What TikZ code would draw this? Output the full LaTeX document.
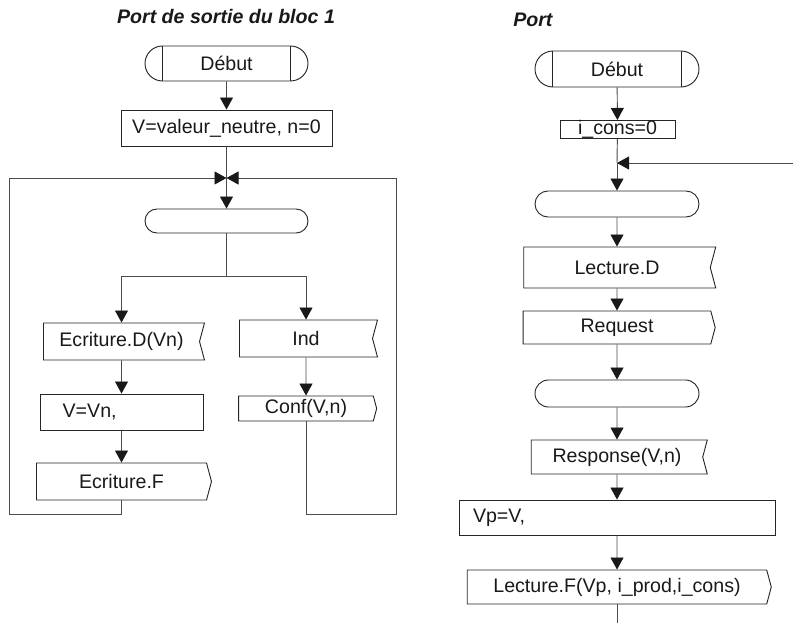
\documentclass[tikz,border=0pt]{standalone}
\usepackage{fontspec}
\setmainfont{Liberation Sans}
\usetikzlibrary{arrows.meta,shapes.misc,shapes.symbols}

\tikzset{
  flow/.style={draw=black!70, line width=0.7pt, -{Triangle[width=9.75pt,length=9pt,color=black!90]}},
  link/.style={draw=black!70, line width=0.7pt},
  actbox/.style={draw=black!85, line width=0.7pt, rectangle, inner sep=2pt, text=black!90},
  termbox/.style={draw=black!85, line width=0.7pt, rounded rectangle, minimum width=123pt, inner sep=0pt},
  startbox/.style={termbox, text=black!90,
    path picture={
      \draw[black!85, line width=0.7pt] ([xshift=13pt]path picture bounding box.north west) -- ([xshift=13pt]path picture bounding box.south west);
      \draw[black!85, line width=0.7pt] ([xshift=-13pt]path picture bounding box.north east) -- ([xshift=-13pt]path picture bounding box.south east);}},
  sendbox/.style={actbox, signal, signal to=east, signal from=nowhere, signal pointer angle=150},
  recvbox/.style={actbox, signal, signal to=nowhere, signal from=east, signal pointer angle=150},
  titre/.style={font=\fontsize{14.7}{17}\selectfont\bfseries\itshape, text=black!90, inner sep=0pt}
}

\begin{document}
\begin{tikzpicture}[x=0.75pt,y=0.75pt,yscale=-1,xscale=1, font=\fontsize{14.7}{17}\selectfont]
\useasboundingbox (0,0) rectangle (794,623);

% Text Node
\node (titre1) at (226,17) [titre] {Port de sortie du bloc 1};
% Text Node
\node (titre2) at (513,20) [titre, anchor=west] {Port};

%% left chart
\node (debut1) at (226.5,63.5) [startbox, minimum width=122.25pt, minimum height=26.25pt] {Début};
\node (init1) at (226.5,128) [actbox, minimum width=158.25pt, minimum height=27pt] {V=valeur\_neutre, n=0};
\coordinate (j1) at (226.5,178);
\node (att1) at (226.5,221) [termbox, minimum width=122.25pt, minimum height=18pt] {};
\coordinate (split1) at (226.5,276);
\node (ecrD) at (121.5,341.5) [recvbox, minimum width=120.75pt, minimum height=27.75pt] {Ecriture.D(Vn)};
\node (vvn) at (121.5,412) [actbox, minimum height=27pt, inner xsep=17pt, text width=88.25pt, align=left] {V=Vn,};
\node (ecrF) at (121.5,481.5) [sendbox, minimum width=131.25pt, minimum height=27.75pt] {Ecriture.F};
\node (ind) at (306,338.5) [recvbox, minimum width=103.5pt, minimum height=27.75pt] {Ind};
\node (conf) at (306,408.5) [sendbox, minimum width=103.5pt, minimum height=18.75pt, inner ysep=0pt] {Conf(V,n)};
\coordinate (topL) at (9,178);
\coordinate (botL) at (9,514);
\coordinate (topR) at (396,178);
\coordinate (botR) at (396,514);

% Connection
\draw[flow] (debut1) -- (init1);
\draw[link] (init1) -- (j1);
\draw[flow] (j1) -- (att1);
\draw[link] (att1) -- (split1);
\draw[flow] (split1) -| (ecrD);
\draw[flow] (split1) -| (ind);
\draw[flow] (ecrD) -- (vvn);
\draw[flow] (vvn) -- (ecrF);
\draw[flow] (ind) -- (conf);
\draw[flow] (ecrF) |- (botL) -- (topL) -- (j1);
\draw[flow] (conf) |- (botR) -- (topR) -- (j1);

%% right chart
\node (debut2) at (617,69) [startbox, minimum width=123pt, minimum height=27pt] {Début};
\node (init2) at (617.5,129.5) [actbox, minimum width=86.25pt, minimum height=12.75pt, inner ysep=0pt] {i\_cons=0};
\coordinate (j2) at (617,163);
\coordinate (retour) at (793,163);
\node (att2) at (617,204) [termbox, minimum width=123pt, minimum height=19.5pt] {};
\node (lecD) at (617,267.5) [recvbox, minimum width=144pt, minimum height=30.75pt] {Lecture.D};
\node (req) at (617,327.5) [sendbox, minimum width=144pt, minimum height=24.75pt] {Request};
\node (att3) at (617,393.5) [termbox, minimum width=123pt, minimum height=20.25pt] {};
\node (resp) at (617,457) [recvbox, minimum width=132pt, minimum height=25.5pt] {Response(V,n)};
\node (vp) at (617,517.5) [actbox, minimum height=26.25pt, inner xsep=10.5pt, text width=216pt, align=left] {Vp=V,};
\node (lecF) at (617,587) [sendbox, minimum width=228pt, minimum height=25.5pt] {Lecture.F(Vp, i\_prod,i\_cons)};
\coordinate (fin2) at (617,623);

% Connection
\draw[flow] (debut2) -- (init2);
\draw[link] (init2) -- (j2);
\draw[flow] (retour) -- (j2);
\draw[flow] (j2) -- (att2);
\draw[flow] (att2) -- (lecD);
\draw[flow] (lecD) -- (req);
\draw[flow] (req) -- (att3);
\draw[flow] (att3) -- (resp);
\draw[flow] (resp) -- (vp);
\draw[flow] (vp) -- (lecF);
\draw[link] (lecF) -- (fin2);

\end{tikzpicture}
\end{document}
